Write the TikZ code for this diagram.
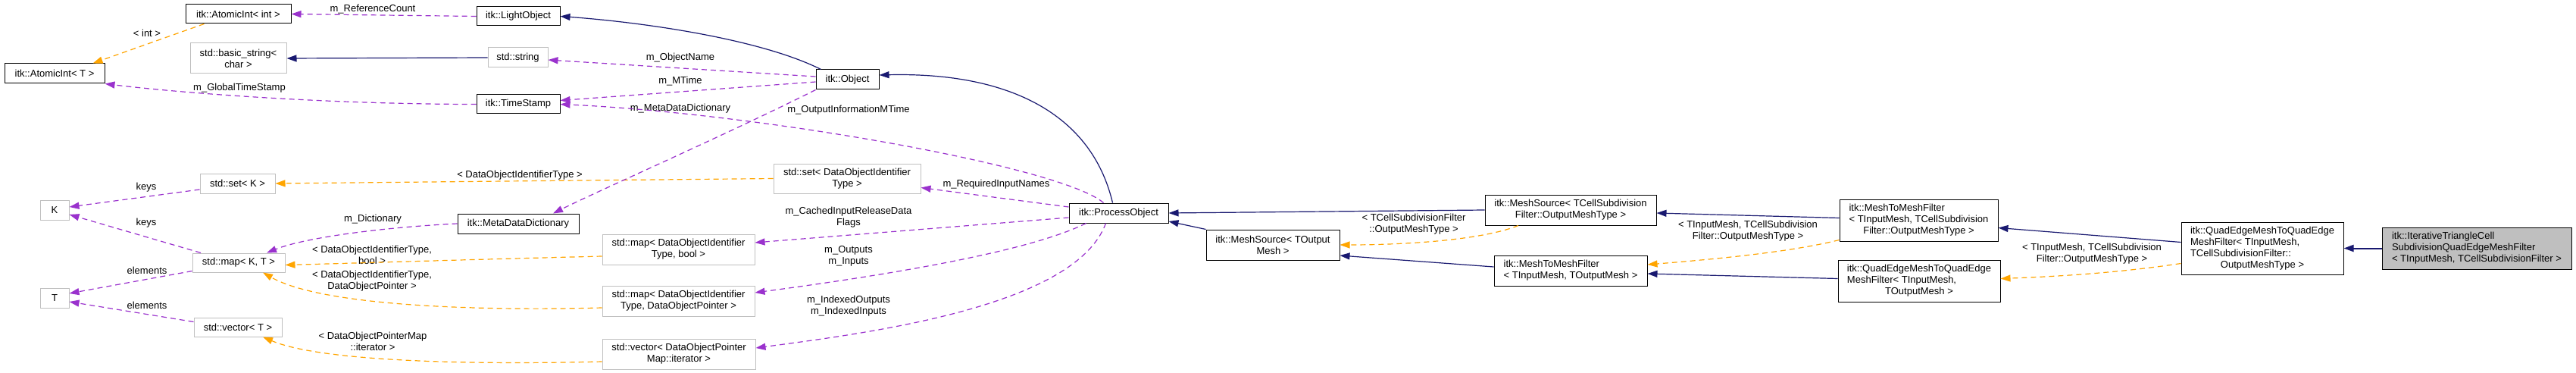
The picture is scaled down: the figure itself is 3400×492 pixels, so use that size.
\documentclass[tikz,border=0pt]{standalone}
\usepackage{fontspec}
\setmainfont{Liberation Sans}
\usepackage{xcolor}
\usepackage{tikz}
\usetikzlibrary{arrows.meta}

\definecolor{inhblue}{HTML}{191970}
\definecolor{usepurple}{HTML}{9A32CD}
\definecolor{tplorange}{HTML}{FFA500}
\definecolor{boxgrey}{HTML}{BFBFBF}
\newcommand{\ctrline}[1]{\multicolumn{1}{@{}c@{}}{#1}}

\begin{document}
\begin{tikzpicture}[
    x=1pt, y=-1pt,
    font=\fontsize{13}{15}\selectfont,
    klass/.style={rectangle, draw=black, fill=white, line width=1pt, inner sep=1pt, align=center},
    stdbox/.style={klass, draw=boxgrey},
    sz/.style 2 args={minimum width=#1pt, minimum height=#2pt},
    inherit/.style={-{Triangle[length=13pt, width=9pt]}, draw=inhblue, line width=1.2pt},
    uses/.style={-{Triangle[length=13pt, width=9pt]}, draw=usepurple, line width=1.2pt, dash pattern=on 7pt off 5pt},
    tmpl/.style={uses, draw=tplorange},
    elabel/.style={inner sep=0pt, align=center}
]
    \fill[white] (0,0) rectangle (3400,492);
    \useasboundingbox (0,0) rectangle (3400,492);

    % classes, left part
    \node[klass, sz={139}{25}] (aint) at (314.5,18.5) {itk::AtomicInt< int >};
    \node[klass, sz={110}{25}] (light) at (684,21.5) {itk::LightObject};
    \node[stdbox, sz={127}{40}] (bstr) at (314.5,77) {std::basic\_string<\\char >};
    \node[stdbox, sz={79}{26}] (sstr) at (683.5,76) {std::string};
    \node[klass, sz={132}{26}] (aintT) at (72,97) {itk::AtomicInt< T >};
    \node[klass, sz={110}{25}] (tstamp) at (684,137.5) {itk::TimeStamp};
    \node[stdbox, sz={99}{26}] (setK) at (313.5,242) {std::set< K >};
    \node[stdbox, sz={38}{26}] (K) at (72,277) {K};
    \node[stdbox, sz={122}{25}] (mapKT) at (315,346.5) {std::map< K, T >};
    \node[klass, sz={160}{26}] (mdd) at (684,295) {itk::MetaDataDictionary};
    \node[stdbox, sz={38}{26}] (T) at (72,393) {T};
    \node[stdbox, sz={116}{25}] (vecT) at (314,431.5) {std::vector< T >};

    % classes, middle part
    \node[klass, sz={83}{26}] (object) at (1118.5,105) {itk::Object};
    \node[stdbox, sz={194}{39}] (setDOIT) at (1118,235.5) {std::set< DataObjectIdentifier\\Type >};
    \node[klass, sz={131}{26}] (procobj) at (1476.5,281) {itk::ProcessObject};
    \node[stdbox, sz={201}{40}] (mapBool) at (895.5,329) {std::map< DataObjectIdentifier\\Type, bool >};
    \node[stdbox, sz={201}{40}] (mapDOP) at (895.5,397) {std::map< DataObjectIdentifier\\Type, DataObjectPointer >};
    \node[stdbox, sz={202}{40}] (vecIter) at (896,467) {std::vector< DataObjectPointer\\Map::iterator >};

    % classes, right part
    \node[klass, sz={226}{40}] (msCell) at (2073,277) {itk::MeshSource< TCellSubdivision\\Filter::OutputMeshType >};
    \node[klass, sz={176}{40}] (msOut) at (1680,323) {itk::MeshSource< TOutput\\Mesh >};
    \node[klass, sz={202}{40}, align=left] (m2mOut) at (2073,357) {itk::MeshToMeshFilter\\< TInputMesh, TOutputMesh >};
    \node[klass, sz={209}{55}] (m2mCell) at (2532.5,290.5) {\begin{tabular}{@{}l@{}}itk::MeshToMeshFilter\\< TInputMesh, TCellSubdivision\\\ctrline{Filter::OutputMeshType >}\end{tabular}};
    \node[klass, sz={214}{55}] (qeOut) at (2533,370.5) {\begin{tabular}{@{}l@{}}itk::QuadEdgeMeshToQuadEdge\\MeshFilter< TInputMesh,\\\ctrline{TOutputMesh >}\end{tabular}};
    \node[klass, sz={214}{69}] (qeCell) at (2986,327.5) {\begin{tabular}{@{}l@{}}itk::QuadEdgeMeshToQuadEdge\\MeshFilter< TInputMesh,\\TCellSubdivisionFilter::\\\ctrline{OutputMeshType >}\end{tabular}};
    \node[klass, fill=boxgrey, sz={250}{55}, align=left] (iter) at (3269,327.5) {itk::IterativeTriangleCell\\SubdivisionQuadEdgeMeshFilter\\< TInputMesh, TCellSubdivisionFilter >};

    % edge labels
    \node[elabel] (lRefCount) at (492,12) {m\_ReferenceCount};
    \node[elabel] (lInt) at (194,44) {< int >};
    \node[elabel] (lGlobal) at (316,116) {m\_GlobalTimeStamp};
    \node[elabel] (lObjName) at (898,76) {m\_ObjectName};
    \node[elabel] (lMTime) at (898,107) {m\_MTime};
    \node[elabel] (lMetaDict) at (898,143) {m\_MetaDataDictionary};
    \node[elabel] (lOutInfo) at (1120,145) {m\_OutputInformationMTime};
    \node[elabel] (lSetDOIT) at (686,231) {< DataObjectIdentifierType >};
    \node[elabel] (lKeysA) at (193,247) {keys};
    \node[elabel] (lKeysB) at (193,294) {keys};
    \node[elabel] (lDict) at (492,289) {m\_Dictionary};
    \node[elabel] (lElemA) at (194,357) {elements};
    \node[elabel] (lElemB) at (194,403) {elements};
    \node[elabel] (lMapBool) at (491,336) {< DataObjectIdentifierType,\\bool >};
    \node[elabel] (lMapDOP) at (491,371) {< DataObjectIdentifierType,\\DataObjectPointer >};
    \node[elabel] (lVecIter) at (492,450) {< DataObjectPointerMap\\::iterator >};
    \node[elabel] (lReqIn) at (1315,243) {m\_RequiredInputNames};
    \node[elabel] (lCached) at (1120,287) {m\_CachedInputReleaseData\\Flags};
    \node[elabel] (lOutIn) at (1120,338) {m\_Outputs\\m\_Inputs};
    \node[elabel] (lIndexed) at (1120,404) {m\_IndexedOutputs\\m\_IndexedInputs};
    \node[elabel] (lMsCell) at (1866,296) {< TCellSubdivisionFilter\\::OutputMeshType >};
    \node[elabel] (lM2m) at (2307,305) {< TInputMesh, TCellSubdivision\\Filter::OutputMeshType >};
    \node[elabel] (lQe) at (2761,335) {< TInputMesh, TCellSubdivision\\Filter::OutputMeshType >};

    % left part
    \draw[uses] (light.west) -- (aint.east);
    \draw[tmpl] ([xshift=25pt]aint.south west) -- ([xshift=-16pt]aintT.north east);
    \draw[inherit] (sstr.west) -- (bstr.east);
    \draw[uses] (tstamp.west) .. controls +(-200,0) and +(100,12) .. (aintT.south east);
    \draw[tmpl] (setDOIT.west) -- (setK.east);
    \draw[uses] ([yshift=-8pt]setK.west) -- ([yshift=4pt]K.east);
    \draw[uses] ([xshift=-50pt]mapKT.north) -- ([yshift=-6pt]K.east);
    \draw[uses] ([yshift=2pt]mapKT.south west) -- ([yshift=6pt]T.east);
    \draw[uses] ([yshift=7pt]vecT.west) -- ([yshift=-5pt]T.east);
    \draw[uses] (mdd.west) .. controls +(-100,5) and +(50,-20) .. ([xshift=37pt]mapKT.north);
    \draw[tmpl] ([yshift=-9pt]mapBool.west) .. controls +(-200,5) and +(80,-2) .. ([yshift=-3pt]mapKT.east);
    \draw[tmpl] ([yshift=-9pt]mapDOP.west) .. controls +(-200,5) and +(70,40) .. ([xshift=32pt]mapKT.south);
    \draw[tmpl] ([yshift=-10pt]vecIter.west) .. controls +(-200,5) and +(70,30) .. ([xshift=33pt]vecT.south);

    % itk::Object and itk::ProcessObject
    \draw[inherit] ([xshift=7pt]object.north west) .. controls +(-80,-40) and +(110,8) .. (light.east);
    \draw[uses] ([yshift=4pt]object.west) -- ([yshift=-3pt]sstr.east);
    \draw[uses] ([yshift=-3pt]object.west) -- ([yshift=5pt]tstamp.east);
    \draw[uses] (object.south west) .. controls +(-120,60) and +(60,-30) .. ([xshift=46pt]mdd.north);
    \draw[uses] ([xshift=-20pt]procobj.north) .. controls +(-56,-48) and +(261,12) .. (tstamp.east);
    \draw[inherit] ([xshift=-8pt]procobj.north) .. controls +(-28,-118) and +(170,-4) .. ([yshift=6pt]object.east);
    \draw[uses] ([yshift=8pt]procobj.west) -- ([yshift=-12pt]setDOIT.east);
    \draw[uses] ([yshift=-6pt]procobj.west) -- ([yshift=9pt]mapBool.east);
    \draw[uses] ([xshift=-43pt]procobj.south) .. controls +(-80,40) and +(150,-20) .. ([yshift=11pt]mapDOP.east);
    \draw[uses] ([xshift=-17pt]procobj.south) .. controls +(-40,110) and +(150,-20) .. ([yshift=8pt]vecIter.east);

    % right part
    \draw[inherit] (msCell.west) -- (procobj.east);
    \draw[inherit] (msOut.north west) -- ([yshift=-11pt]procobj.east);
    \draw[tmpl] ([xshift=-69pt]msCell.south) .. controls +(-50,20) and +(80,0) .. (msOut.east);
    \draw[inherit] ([yshift=5pt]m2mOut.west) -- ([yshift=-14pt]msOut.east);
    \draw[inherit] ([yshift=3pt]m2mCell.west) -- ([yshift=-4pt]msCell.east);
    \draw[tmpl] ([yshift=-26pt]m2mCell.west) .. controls +(-60,15) and +(100,-8) .. ([yshift=8pt]m2mOut.east);
    \draw[inherit] ([yshift=3pt]qeOut.west) -- ([yshift=-4pt]m2mOut.east);
    \draw[inherit] ([yshift=8pt]qeCell.west) -- ([yshift=-10pt]m2mCell.east);
    \draw[tmpl] ([yshift=-20pt]qeCell.west) .. controls +(-80,12) and +(80,-3) .. ([yshift=3pt]qeOut.east);
    \draw[inherit, line width=2pt] (iter.west) -- (qeCell.east);
\end{tikzpicture}
\end{document}
